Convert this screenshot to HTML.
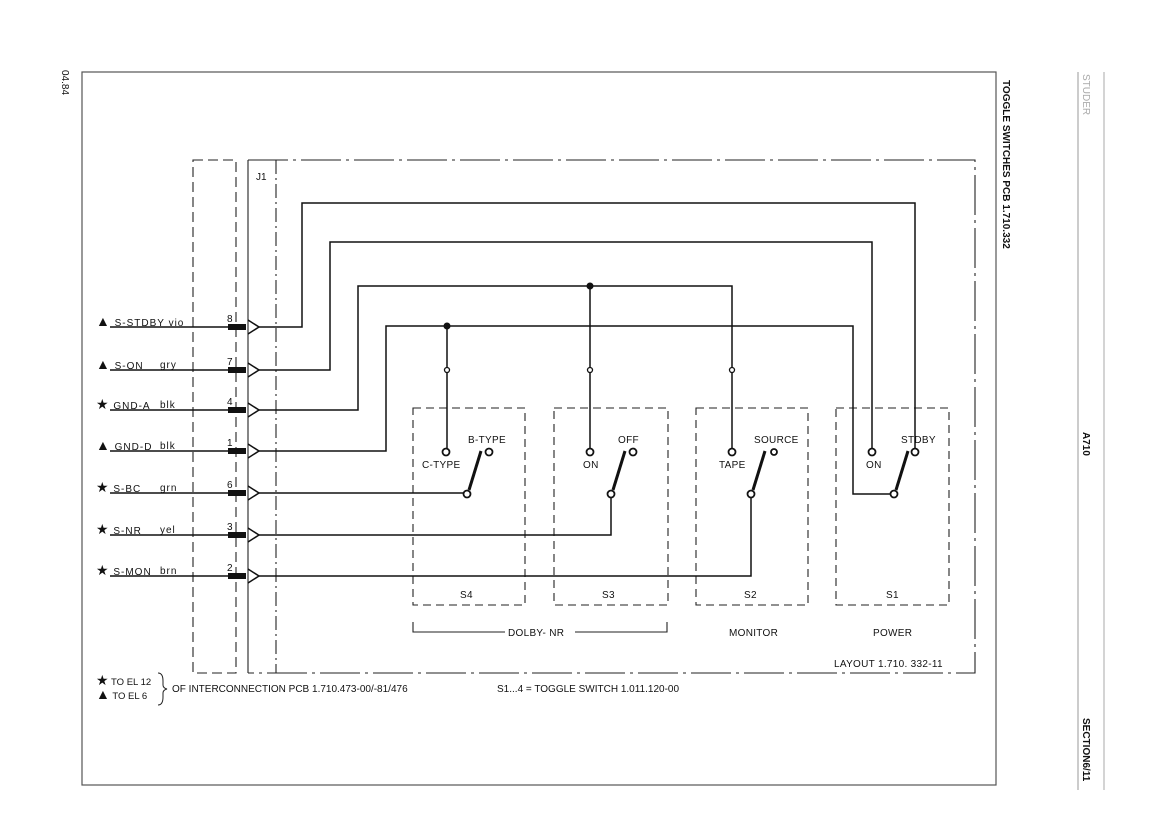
<!DOCTYPE html>
<html><head><meta charset="utf-8"><style>
html,body{margin:0;padding:0;background:#fff;}
svg{display:block;}
text{font-family:"Liberation Sans",sans-serif;fill:#111;}
.g{font-size:14px;}
</style></head><body>
<svg width="1170" height="827" viewBox="0 0 1170 827" xmlns="http://www.w3.org/2000/svg">
<rect width="1170" height="827" fill="#fff"/>
<rect x="82" y="72" width="914" height="713" fill="none" stroke="#555" stroke-width="1.2"/>
<line x1="1078" y1="72" x2="1078" y2="790" stroke="#999" stroke-width="1"/>
<line x1="1104" y1="72" x2="1104" y2="790" stroke="#aaa" stroke-width="1"/>
<text transform="translate(62,70) rotate(90)" font-size="10" fill="#333">04.84</text>
<text transform="translate(1003,80) rotate(90)" font-size="10" font-weight="bold">TOGGLE SWITCHES PCB  1.710.332</text>
<text transform="translate(1083,74) rotate(90)" font-size="10" style="fill:#aaa">STUDER</text>
<text transform="translate(1083,432) rotate(90)" font-size="10" font-weight="bold">A710</text>
<text transform="translate(1083,718) rotate(90)" font-size="10" font-weight="bold">SECTION6/11</text>

<g fill="none" stroke="#222" stroke-width="1.1">
<rect x="193" y="160" width="43" height="513" stroke-dasharray="10,5"/>
<line x1="248" y1="160" x2="248" y2="673"/>
<line x1="276" y1="160" x2="276" y2="673" stroke-dasharray="14,4,2,4"/>
<polyline points="248,160 975,160 975,673 248,673" stroke-dasharray="40,5,3,5"/>
<rect x="413" y="408" width="112" height="197" stroke-dasharray="8,5"/>
<rect x="554" y="408" width="114" height="197" stroke-dasharray="8,5"/>
<rect x="696" y="408" width="112" height="197" stroke-dasharray="8,5"/>
<rect x="836" y="408" width="113" height="197" stroke-dasharray="8,5"/>
<polyline points="413,622 413,632 505,632"/>
<polyline points="575,632 667,632 667,622"/>
</g>
<text x="256" y="180" font-size="10">J1</text>

<g stroke="#111" stroke-width="1.5" fill="none">
<line x1="110" y1="327" x2="230" y2="327"/>
<line x1="110" y1="370" x2="230" y2="370"/>
<line x1="110" y1="410" x2="230" y2="410"/>
<line x1="110" y1="451" x2="230" y2="451"/>
<line x1="110" y1="493" x2="230" y2="493"/>
<line x1="110" y1="535" x2="230" y2="535"/>
<line x1="110" y1="576" x2="230" y2="576"/>
</g>
<g fill="#111">
<rect x="228" y="324" width="18" height="6"/>
<rect x="228" y="367" width="18" height="6"/>
<rect x="228" y="407" width="18" height="6"/>
<rect x="228" y="448" width="18" height="6"/>
<rect x="228" y="490" width="18" height="6"/>
<rect x="228" y="532" width="18" height="6"/>
<rect x="228" y="573" width="18" height="6"/>
</g>
<g stroke="#111" stroke-width="1.5" fill="none">
<polyline points="248,320 259,327 248,334"/>
<polyline points="248,363 259,370 248,377"/>
<polyline points="248,403 259,410 248,417"/>
<polyline points="248,444 259,451 248,458"/>
<polyline points="248,486 259,493 248,500"/>
<polyline points="248,528 259,535 248,542"/>
<polyline points="248,569 259,576 248,583"/>
</g>
<g font-size="10">
<text x="227" y="322">8</text><text x="227" y="365">7</text><text x="227" y="405">4</text>
<text x="227" y="446">1</text><text x="227" y="488">6</text><text x="227" y="530">3</text><text x="227" y="571">2</text>
</g>
<g font-size="10" letter-spacing="1">
<text x="96" y="326"><tspan class="g">▲</tspan> S-STDBY  vio</text>
<text x="96" y="369"><tspan class="g">▲</tspan> S-ON</text><text x="160" y="368">gry</text>
<text x="96" y="409"><tspan class="g">★</tspan> GND-A</text><text x="160" y="408">blk</text>
<text x="96" y="450"><tspan class="g">▲</tspan> GND-D</text><text x="160" y="449">blk</text>
<text x="96" y="492"><tspan class="g">★</tspan> S-BC</text><text x="160" y="491">grn</text>
<text x="96" y="534"><tspan class="g">★</tspan> S-NR</text><text x="160" y="533">yel</text>
<text x="96" y="575"><tspan class="g">★</tspan> S-MON</text><text x="160" y="574">brn</text>
</g>

<g stroke="#111" stroke-width="1.5" fill="none">
<polyline points="259,327 302,327 302,203 915,203 915,448"/>
<polyline points="259,370 330,370 330,242 872,242 872,448"/>
<polyline points="259,410 358,410 358,286 732,286 732,448"/>
<line x1="590" y1="286" x2="590" y2="448"/>
<polyline points="259,451 386,451 386,326 853,326 853,494 890,494"/>
<line x1="447" y1="326" x2="447" y2="448"/>
<line x1="259" y1="493" x2="463" y2="493"/>
<polyline points="259,535 611,535 611,498"/>
<polyline points="259,576 751,576 751,498"/>
</g>
<g fill="#111"><circle cx="590" cy="286" r="3.5"/><circle cx="447" cy="326" r="3.5"/></g>
<g fill="#fff" stroke="#111" stroke-width="1.3">
<circle cx="447" cy="370" r="2.5"/><circle cx="590" cy="370" r="2.5"/><circle cx="732" cy="370" r="2.5"/>
</g>
<g stroke="#111" stroke-width="3" fill="none">
<line x1="469" y1="490" x2="481" y2="451"/>
<line x1="613" y1="490" x2="625" y2="451"/>
<line x1="753" y1="490" x2="765" y2="451"/>
<line x1="896" y1="490" x2="908" y2="451"/>
</g>
<g fill="#fff" stroke="#111" stroke-width="1.8">
<circle cx="446" cy="452" r="3.5"/><circle cx="489" cy="452" r="3.5"/><circle cx="467" cy="494" r="3.5"/>
<circle cx="590" cy="452" r="3.5"/><circle cx="633" cy="452" r="3.5"/><circle cx="611" cy="494" r="3.5"/>
<circle cx="732" cy="452" r="3.5"/><circle cx="774" cy="452" r="3"/><circle cx="751" cy="494" r="3.5"/>
<circle cx="872" cy="452" r="3.5"/><circle cx="915" cy="452" r="3.5"/><circle cx="894" cy="494" r="3.5"/>
</g>
<g font-size="10" letter-spacing="0.3">
<text x="468" y="443">B-TYPE</text><text x="422" y="468">C-TYPE</text>
<text x="618" y="443">OFF</text><text x="583" y="468">ON</text>
<text x="754" y="443">SOURCE</text><text x="719" y="468">TAPE</text>
<text x="901" y="443">STDBY</text><text x="866" y="468">ON</text>
<text x="460" y="598">S4</text><text x="602" y="598">S3</text><text x="744" y="598">S2</text><text x="886" y="598">S1</text>
<text x="508" y="636">DOLBY- NR</text>
<text x="729" y="636">MONITOR</text>
<text x="873" y="636">POWER</text>
<text x="834" y="667">LAYOUT   1.710. 332-11</text>
</g>
<g font-size="9.5">
<text x="96" y="685"><tspan class="g">★</tspan> TO EL 12</text>
<text x="96" y="699"><tspan class="g">▲</tspan> TO EL  6</text>
<text x="172" y="692" font-size="10">OF INTERCONNECTION PCB  1.710.473-00/-81/476</text>
<text x="497" y="692" font-size="10">S1...4 = TOGGLE SWITCH 1.011.120-00</text>
</g>
<path d="M158,673 q5,0 5,8 v4 q0,3 4,4 q-4,1 -4,4 v4 q0,8 -5,8" fill="none" stroke="#222" stroke-width="1"/>
</svg>
</body></html>
